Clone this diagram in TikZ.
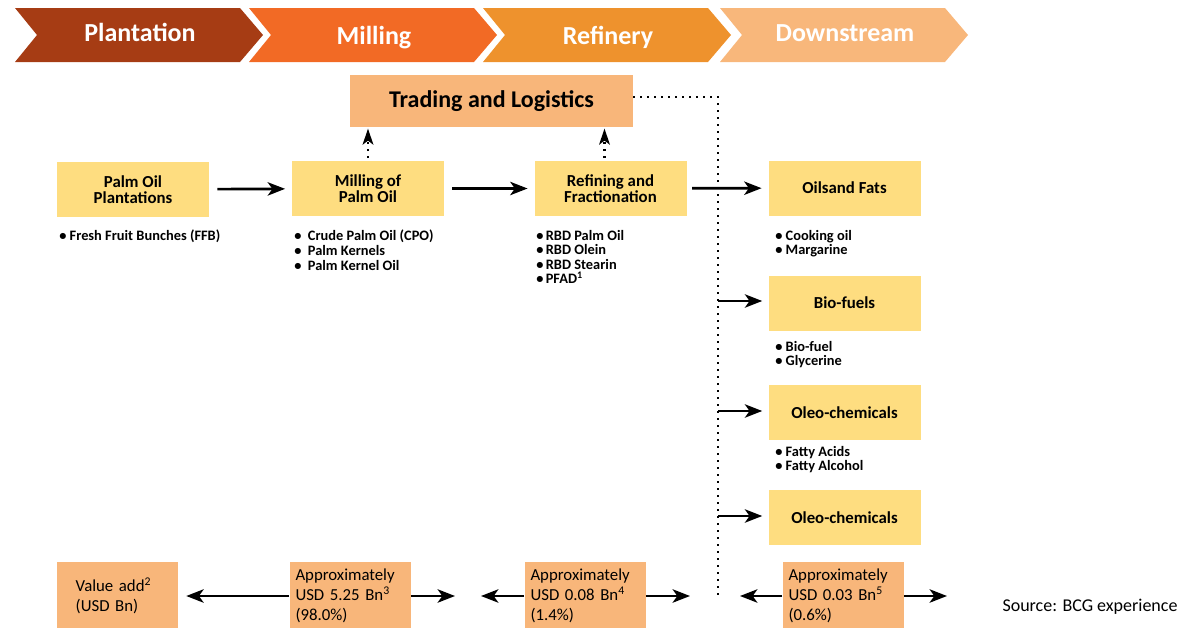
\documentclass[tikz,border=0pt]{standalone}
\usepackage{fontspec}
\setmainfont{Carlito}
\usetikzlibrary{arrows.meta}

\definecolor{plantred}{HTML}{A63C14}
\definecolor{millorange}{HTML}{F26A25}
\definecolor{refineorange}{HTML}{EE922D}
\definecolor{downpeach}{HTML}{F8B77B}
\definecolor{boxyellow}{HTML}{FEDD80}
\definecolor{valuepeach}{HTML}{F8B67A}

\begin{document}
\begin{tikzpicture}[x=0.75pt,y=-0.75pt,
    stagetitle/.style={anchor=base, text=white, font=\fontsize{19.5}{22}\selectfont\bfseries},
    stagebox/.style={fill=boxyellow, minimum width=114pt, minimum height=41.25pt, inner sep=0pt,
        align=center, font=\fontsize{12.6}{11.5}\selectfont\bfseries},
    bulletlist/.style={anchor=north west, inner sep=0pt, align=left,
        font=\fontsize{10.8}{10.9}\selectfont\bfseries},
    valuebox/.style={fill=valuepeach, minimum width=90.75pt, minimum height=51pt, inner xsep=4.5pt,
        text width=81.75pt, align=left, font=\fontsize{12.6}{15}\selectfont},
    flow/.style={line width=2pt, -{Stealth[length=13pt, width=10pt, inset=3.5pt]}},
    uparrow/.style={line width=1.8pt, dash pattern=on 1.8pt off 3.5pt, -{Stealth[length=12pt, width=8pt, inset=3pt]}},
    dotline/.style={line width=1.5pt, dash pattern=on 1.5pt off 3.75pt}]
  \useasboundingbox (0,0) rectangle (1197,628);

  % stages along the top
  \foreach \x/\yb/\col/\name in {15/41/plantred/Plantation, 249/44/millorange/Milling, 483/44/refineorange/Refinery, 720/41/downpeach/Downstream}{
    \fill[\col] (\x,8) -- ++(225,0) -- ++(23,27) -- ++(-23,27) -- ++(-225,0) -- ++(22,-27) -- cycle;
    \node[stagetitle] (h-\name) at (\x+125,\yb) {\name};
  }

  \node[fill=valuepeach, minimum width=212.25pt, minimum height=39pt, font=\fontsize{18}{20}\selectfont\bfseries] (trade) at (491.5,101) {Trading and Logistics};

  % main chain
  \node[stagebox] (plant) at (133,189.5) {Palm Oil\\Plantations};
  \node[stagebox] (mill) at (368,188.5) {Milling of\\Palm Oil};
  \node[stagebox] (refine) at (610.5,188.5) {Refining and\\Fractionation};

  \node[bulletlist] (l-plant) at (59,230) {\textbullet\ Fresh Fruit Bunches (FFB)};
  \node[bulletlist] (l-mill) at (294,230) {\textbullet\ \ Crude Palm Oil (CPO)\\\textbullet\ \ Palm Kernels\\\textbullet\ \ Palm Kernel Oil};
  \node[bulletlist] (l-refine) at (536,230) {\textbullet\,RBD Palm Oil\\\textbullet\,RBD Olein\\\textbullet\,RBD Stearin\\\textbullet\,PFAD\textsuperscript{1}};

  % downstream column
  \node[stagebox] (oils) at (844.5,188) {Oilsand Fats};
  \node[stagebox] (biofuel) at (844.5,303) {Bio-fuels};
  \node[stagebox] (oleoA) at (844.5,412.5) {Oleo-chemicals};
  \node[stagebox] (oleoB) at (844.5,517.5) {Oleo-chemicals};

  \node[bulletlist] (l-oils) at (775,230) {\textbullet\ Cooking oil\\\textbullet\ Margarine};
  \node[bulletlist] (l-biofuel) at (775,341) {\textbullet\ Bio-fuel\\\textbullet\ Glycerine};
  \node[bulletlist] (l-oleoA) at (775,446) {\textbullet\ Fatty Acids\\\textbullet\ Fatty Alcohol};

  \draw[flow, shorten <=6pt, shorten >=5pt] (plant) -- (mill);
  \draw[flow, shorten <=6pt, shorten >=5pt] (mill) -- (refine);
  \draw[flow, shorten <=4pt, shorten >=5pt] (refine) -- (oils);

  \draw[uparrow] ([yshift=2pt]mill.north) -- ([yshift=-1pt]mill.north |- trade.south);
  \draw[uparrow] ([xshift=-4.5pt, yshift=2pt]refine.north) -- ([xshift=-4.5pt, yshift=-1pt]refine.north |- trade.south);

  % dotted link down the side
  \coordinate (tr-corner) at (718,97);
  \coordinate (dl-end) at (718,598);
  \draw[dotline] (trade.east |- tr-corner) -- (tr-corner) -- (dl-end);

  \coordinate (tap1) at (718,301);
  \coordinate (tap2) at (718,411);
  \coordinate (tap3) at (718,516);
  \draw[flow, shorten >=4.5pt] (tap1) -- (tap1 -| biofuel.west);
  \draw[flow, shorten >=4.5pt] (tap2) -- (tap2 -| oleoA.west);
  \draw[flow, shorten >=4.5pt] (tap3) -- (tap3 -| oleoB.west);

  % value add row
  \node[valuebox, inner xsep=14pt, text width=62.75pt] (vadd) at (117.5,596) {Value add\textsuperscript{2}\\(USD Bn)};
  \node[valuebox] (v1) at (350,596) {Approximately\\USD 5.25 Bn\textsuperscript{3}\\(98.0\%)};
  \node[valuebox] (v2) at (585,596) {Approximately\\USD 0.08 Bn\textsuperscript{4}\\(1.4\%)};
  \node[valuebox] (v3) at (843,596) {Approximately\\USD 0.03 Bn\textsuperscript{5}\\(0.6\%)};

  \coordinate (lf1) at (455,596);
  \coordinate (lf2) at (481,596);
  \coordinate (lf3) at (690,596);
  \coordinate (lf4) at (740,596);
  \coordinate (lf5) at (947,596);
  \draw[flow, shorten >=6pt] (v1.west) -- (vadd.east);
  \draw[flow] (v1.east) -- (lf1);
  \draw[flow] (v2.west) -- (lf2);
  \draw[flow] (v2.east) -- (lf3);
  \draw[flow] (v3.west) -- (lf4);
  \draw[flow] (v3.east) -- (lf5);

  \node[font=\fontsize{13.5}{15}\selectfont] (source) at (1090,607) {Source: BCG experience};
\end{tikzpicture}
\end{document}
